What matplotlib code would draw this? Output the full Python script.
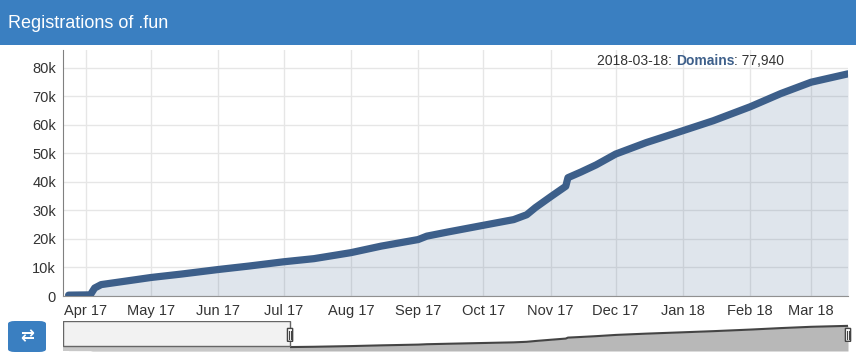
import matplotlib
matplotlib.use("Agg")
import matplotlib.pyplot as plt
import matplotlib.dates as mdates
from matplotlib.patches import Rectangle, FancyBboxPatch
import pandas as pd

plt.rcParams['font.family'] = ['Liberation Sans', 'DejaVu Sans']

# data
dates = ["2017-03-24", "2017-04-03", "2017-04-05", "2017-04-08", "2017-04-20",
         "2017-05-01", "2017-05-15", "2017-06-01", "2017-06-15", "2017-07-01",
         "2017-07-15", "2017-08-01", "2017-08-15", "2017-09-01", "2017-09-05",
         "2017-09-15", "2017-10-01", "2017-10-15", "2017-10-21", "2017-10-25",
         "2017-11-01", "2017-11-08", "2017-11-09", "2017-11-15", "2017-11-22",
         "2017-12-01", "2017-12-15", "2018-01-01", "2018-01-15", "2018-02-01",
         "2018-02-15", "2018-03-01", "2018-03-18"]
domains = [300, 400, 2800, 4000, 5300,
           6500, 7700, 9300, 10500, 12000,
           13100, 15200, 17500, 19800, 21000,
           22500, 24800, 26800, 28500, 31000,
           34800, 38500, 41500, 43500, 46000,
           49800, 53800, 58000, 61500, 66400,
           71000, 75000, 77940]
y_ticks = [0, 10000, 20000, 30000, 40000, 50000, 60000, 70000, 80000]
y_labels = ["0", "10k", "20k", "30k", "40k", "50k", "60k", "70k", "80k"]

dates = pd.to_datetime(dates)
line_col = "#3d5f8a"
W, H = 856, 360

fig = plt.figure(figsize=(W / 100, H / 100), dpi=100)

# header bar
fig.patches.append(Rectangle((0, 1 - 45 / H), 1, 45 / H, transform=fig.transFigure,
                             facecolor="#3a7fc1", edgecolor="none", zorder=0))
fig.text(8 / W, 1 - 23 / H, "Registrations of .fun", color="white", fontsize=13,
         va="center", ha="left")

# main chart
ax = fig.add_axes([63 / W, (H - 296) / H, (848 - 63) / W, (296 - 50) / H])
xmin, xmax = pd.Timestamp("2017-03-21 10:00"), pd.Timestamp("2018-03-18")
ax.set_xlim(xmin, xmax)
ax.set_ylim(0, 86300)
ax.fill_between(dates, domains, color=line_col, alpha=0.16, lw=0, zorder=2)
ax.plot(dates, domains, color=line_col, lw=5.2, solid_capstyle="round", zorder=3)

ax.set_yticks(y_ticks)
ax.set_yticklabels(y_labels)
ax.xaxis.set_major_locator(mdates.MonthLocator())
ax.xaxis.set_major_formatter(mdates.DateFormatter("%b %y"))
ax.tick_params(length=0, labelsize=10.5, colors="#333333")
ax.tick_params(axis="y", pad=5)
ax.tick_params(axis="x", pad=6)
ax.grid(True, color="#e6e6e6", lw=1)
ax.set_axisbelow(True)
for s in ["top", "right"]:
    ax.spines[s].set_visible(False)
ax.spines["left"].set_color("#808080")
ax.spines["bottom"].set_color("#909090")

# tooltip-style label
fig.canvas.draw()
r = fig.canvas.get_renderer()
x0 = 597
parts = [("2018-03-18: ", "normal", "#333333"), ("Domains", "bold", line_col),
         (": 77,940", "normal", "#333333")]
for txt, wt, c in parts:
    t = fig.text(x0 / W, 1 - 61 / H, txt, fontsize=10, fontweight=wt, color=c,
                 va="center", ha="left")
    x0 += t.get_window_extent(r).width

# navigator
nav = fig.add_axes([63 / W, (H - 351) / H, (848 - 63) / W, 30 / H])
nav.set_xlim(xmin, xmax)
nav.set_ylim(0, 93000)
nav.fill_between(dates, domains, color="#b8b8b8", lw=0)
nav.plot(dates, domains, color="#444444", lw=1.5)
nav.axis("off")
sel = pd.Timestamp("2017-07-04")
nav.add_patch(Rectangle((mdates.date2num(xmin), 0), mdates.date2num(sel) - mdates.date2num(xmin),
                        93000, facecolor="#c8c8c8", edgecolor="none", zorder=4))
nav.add_patch(Rectangle((mdates.date2num(xmin), 17000), mdates.date2num(sel) - mdates.date2num(xmin),
                        76000, facecolor="#f2f2f2", edgecolor="#666666", lw=1, zorder=5))
for hx in [sel, xmax]:
    nav.add_patch(FancyBboxPatch((mdates.date2num(hx) - 1.2, 30000), 2.4, 40000,
                                 boxstyle="round,pad=0,rounding_size=1", facecolor="white",
                                 edgecolor="#444444", lw=1, zorder=6, clip_on=False))
    nav.plot([mdates.date2num(hx) - 0.4] * 2, [38000, 62000], color="#444444", lw=0.8, zorder=7, clip_on=False)
    nav.plot([mdates.date2num(hx) + 0.4] * 2, [38000, 62000], color="#444444", lw=0.8, zorder=7, clip_on=False)

# blue button
fig.patches.append(FancyBboxPatch((8 / W, (H - 352) / H), 38 / W, 31 / H,
                                  boxstyle="round,pad=0,rounding_size=0.008",
                                  transform=fig.transFigure, facecolor="#3a7fc1",
                                  edgecolor="none"))
fig.text(27 / W, 1 - 336 / H, "\u21c4", color="white", fontsize=12, ha="center",
         va="center", family="DejaVu Sans", fontweight="bold")

fig.savefig("out.png", dpi=100)
